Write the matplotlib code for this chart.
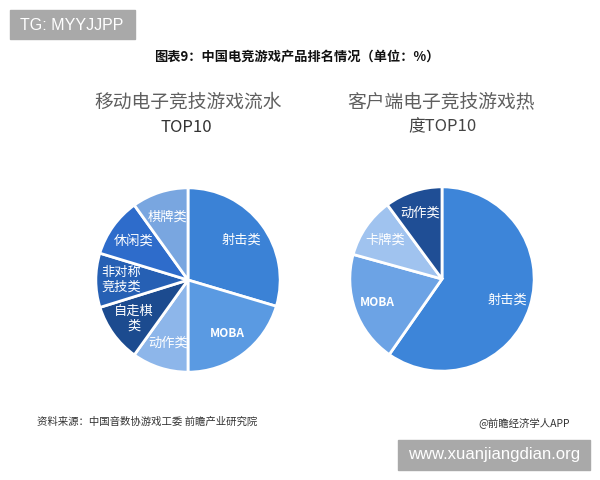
import matplotlib
matplotlib.use("Agg")
import matplotlib.pyplot as plt
from matplotlib.patches import Rectangle

plt.rcParams["font.family"] = ["Noto Sans CJK SC", "DejaVu Sans"]

# left pie: mobile e-sports revenue TOP10 (%), clockwise from 12 o'clock
mobile_labels = ["射击类", "MOBA", "动作类", "自走棋\n类", "非对称\n竞技类", "休闲类", "棋牌类"]
mobile_values = [29.6, 20.4, 9.9, 10.3, 9.5, 10.4, 9.9]
mobile_colors = ["#3b82d6", "#5a9ae2", "#8db6ea", "#1c4b8f", "#2660b4", "#2e6ccb", "#79a6e0"]

# right pie: PC e-sports popularity TOP10 (%)
pc_labels = ["射击类", "MOBA", "卡牌类", "动作类"]
pc_values = [59.7, 19.6, 10.6, 10.1]
pc_colors = ["#3d85d9", "#6ca3e5", "#a0c3ef", "#1f4e95"]

W, H = 600, 480
fig = plt.figure(figsize=(6, 4.8), dpi=100)
fig.patch.set_facecolor("white")


def draw_pie(cx, cy, r, values, labels, colors, dist):
    ax = fig.add_axes([(cx - r) / W, (H - cy - r) / H, 2 * r / W, 2 * r / H])
    wedges, texts = ax.pie(values, labels=labels, colors=colors, startangle=90, counterclock=False,
                           labeldistance=dist, wedgeprops=dict(edgecolor="white", linewidth=2),
                           textprops=dict(color="white", fontsize=9.5, ha="center", va="center"))
    for t, lab in zip(texts, labels):
        t.set_ha("center")
        t.set_linespacing(1.15)
        if lab == "MOBA":
            t.set_fontweight("bold")
            t.set_fontsize(8.5)
    ax.set_xlim(-1.02, 1.02); ax.set_ylim(-1.02, 1.02)
    ax.set_aspect("equal"); ax.axis("off")
    return ax


draw_pie(188, 280, 94, mobile_values, mobile_labels, mobile_colors, 0.72)
draw_pie(442, 279, 94, pc_values, pc_labels, pc_colors, 0.75)


def px(x, y):
    return x / W, 1 - y / H


# watermark boxes
fig.patches.append(Rectangle(px(10, 39), 125 / W, 29 / H, transform=fig.transFigure, color="#a9a9a9", zorder=0))
fig.text(*px(20, 25), "TG: MYYJJPP", family="Liberation Sans", fontsize=11.5, color="white", va="center", ha="left")
fig.patches.append(Rectangle(px(398, 470), 192 / W, 30 / H, transform=fig.transFigure, color="#a9a9a9", zorder=0))
fig.text(*px(494, 455), "www.xuanjiangdian.org", family="Liberation Sans", fontsize=12, color="white",
         va="center", ha="center")

fig.text(*px(297, 56), "图表9：中国电竞游戏产品排名情况（单位：%）", fontsize=9.5, fontweight="bold",
         color="#111111", ha="center", va="center")

fig.text(*px(188, 102), "移动电子竞技游戏流水", fontsize=13.5, color="#5f5f5f", ha="center", va="center")
fig.text(*px(186, 127), "TOP10", fontsize=12, color="#333333", ha="center", va="center")
fig.text(*px(441, 102), "客户端电子竞技游戏热", fontsize=13.5, color="#5f5f5f", ha="center", va="center")
fig.text(*px(442, 127), "度TOP10", fontsize=12, color="#444444", ha="center", va="center")

fig.text(*px(37, 422), "资料来源：中国音数协游戏工委 前瞻产业研究院", fontsize=7.5, color="#333333",
         ha="left", va="center")
fig.text(*px(570, 423), "@前瞻经济学人APP", fontsize=7.5, color="#333333", ha="right", va="center")

fig.savefig("out.png", dpi=100, facecolor="white")
